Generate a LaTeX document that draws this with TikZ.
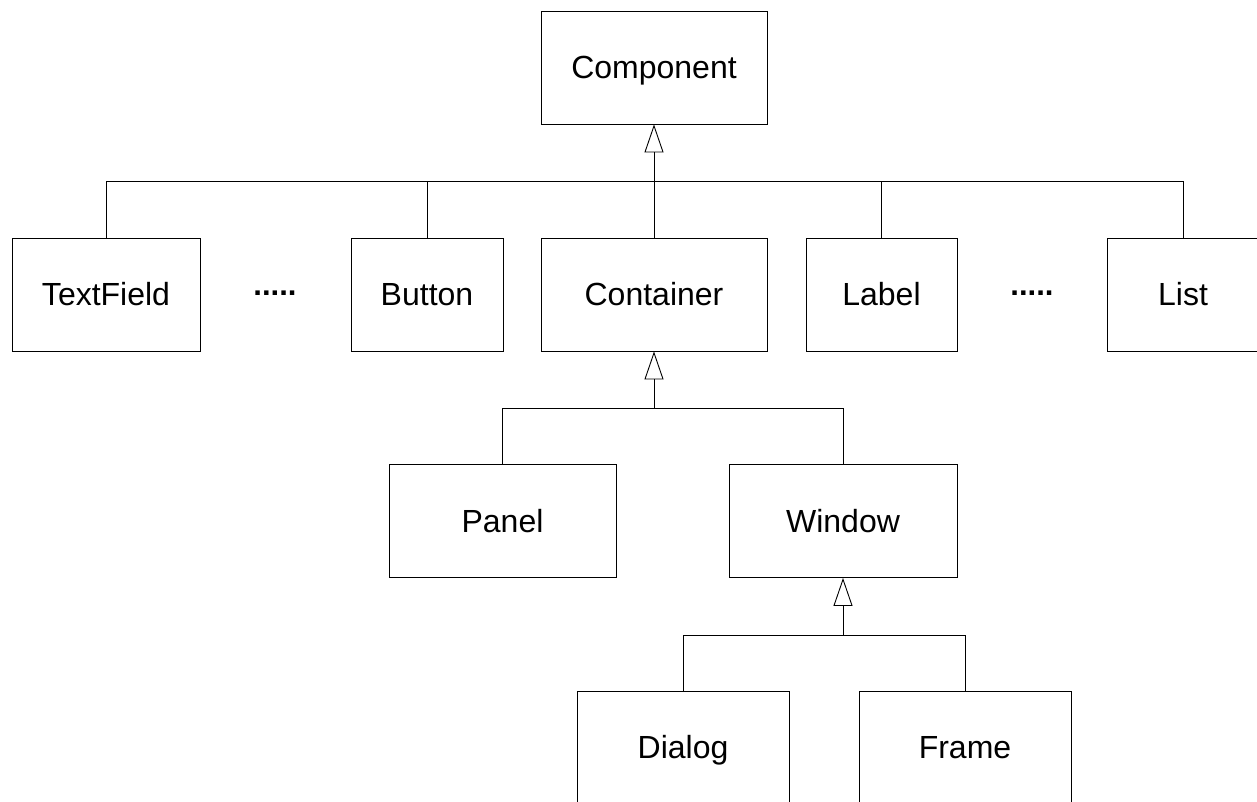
\documentclass[tikz,border=0pt]{standalone}
\usepackage{fontspec}
\setmainfont{Liberation Sans}
\usetikzlibrary{arrows.meta}
\begin{document}
\begin{tikzpicture}[x=1pt,y=-1pt,
  cls/.style={draw=black, line width=0.9pt, fill=white, rectangle, inner sep=0pt,
    minimum height=113pt, text height=22pt, text depth=0pt,
    font=\fontsize{32}{38}\selectfont},
  conn/.style={draw=black, line width=0.9pt},
  inherit/.style={conn, -{Triangle[open, length=28pt, width=19pt, line width=0.9pt]}},
  dots/.style={font=\fontsize{31}{36}\selectfont\bfseries, inner sep=0pt}
]
\useasboundingbox (0,0) rectangle (1257,802);
\begin{scope}
\clip (0,0) rectangle (1257,802);
% nodes
\node[cls, minimum width=226pt] (component) at (654,67.5) {Component};
\node[cls, minimum width=188pt] (textfield) at (106,294.5) {TextField};
\node[cls, minimum width=152pt] (button) at (427,294.5) {Button};
\node[cls, minimum width=226pt] (container) at (654,294.5) {Container};
\node[cls, minimum width=151pt] (label) at (881.5,294.5) {Label};
\node[cls, minimum width=152pt] (list) at (1183,294.5) {List};
\node[cls, minimum width=227pt] (panel) at (502.5,521) {Panel};
\node[cls, minimum width=228pt] (window) at (843,521) {Window};
\node[cls, minimum width=212pt] (dialog) at (683,747.5) {Dialog};
\node[cls, minimum width=212pt] (frame) at (965,747.5) {Frame};
\node[dots] (dotsA) at (275,293) {.....};
\node[dots] (dotsB) at (1032,293) {.....};
% buses
\coordinate (b1) at (654,181);
\coordinate (b2) at (654,408);
\coordinate (b3) at (843,635);
% level 1
\draw[conn] (textfield.north) |- (b1);
\draw[conn] (list.north) |- (b1);
\draw[conn] (button.north) -- (button.north |- b1);
\draw[conn] (label.north) -- (label.north |- b1);
\draw[conn] (container.north) -- (b1);
\draw[inherit] (b1) -- (component.south);
% level 2
\draw[conn] (panel.north) |- (b2);
\draw[conn] (window.north) |- (b2);
\draw[inherit] (b2) -- (container.south);
% level 3
\draw[conn] (dialog.north) |- (b3);
\draw[conn] (frame.north) |- (b3);
\draw[inherit] (b3) -- (window.south);
\end{scope}
\end{tikzpicture}
\end{document}
